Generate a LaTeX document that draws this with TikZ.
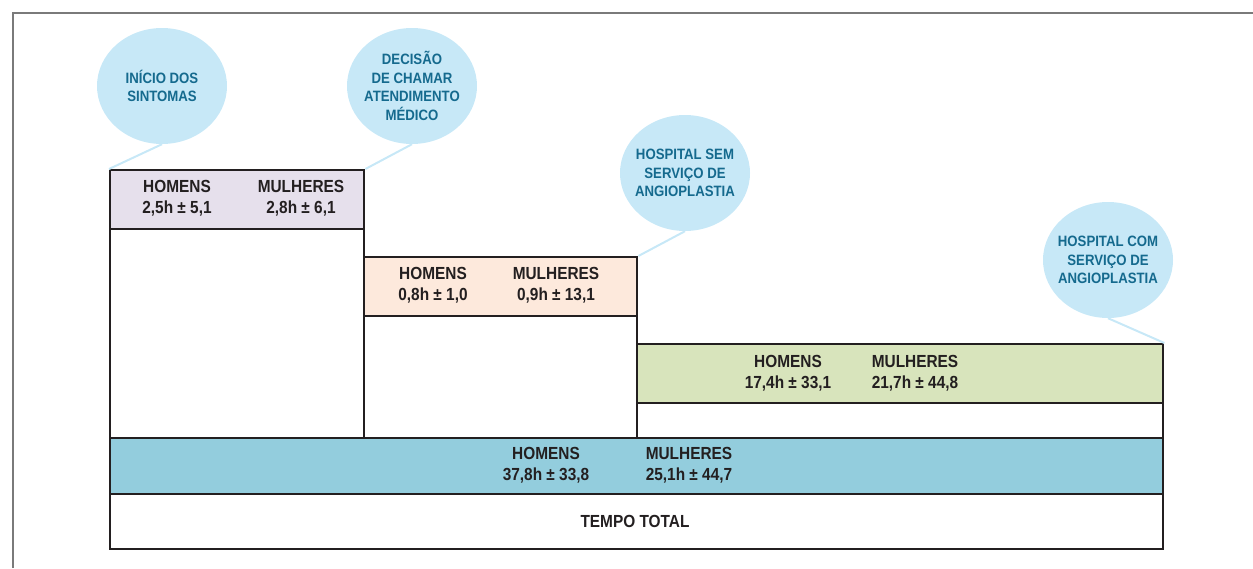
\documentclass[tikz,border=0pt]{standalone}
\usepackage{fontspec}
\setmainfont{Liberation Sans}[FakeStretch=0.88]
\usetikzlibrary{shapes.geometric}
\definecolor{ink}{HTML}{231F20}
\definecolor{bubfill}{HTML}{C7E8F7}
\definecolor{bubtext}{HTML}{156A8E}
\definecolor{lav}{HTML}{E6E0EC}
\definecolor{peach}{HTML}{FDE9DC}
\definecolor{sage}{HTML}{D8E4BC}
\definecolor{teal}{HTML}{93CDDD}
\definecolor{framegray}{HTML}{7A7A7A}
\tikzset{
  panel/.style={draw=ink, line width=2.4pt, inner sep=0pt, anchor=north west},
  bubble/.style={ellipse, fill=bubfill, draw=none, minimum width=130pt, minimum height=116pt, inner sep=-20pt,
     align=center, text=bubtext, font=\fontsize{15}{18.5}\selectfont\bfseries},
  lbl/.style={align=center, text=ink, font=\fontsize{17.5}{21.5}\selectfont\bfseries, inner sep=0pt},
  pointer/.style={draw=bubfill, line width=2pt},
  frameline/.style={draw=framegray, line width=1.3pt}
}
\begin{document}
\begin{tikzpicture}[x=1pt,y=-1pt]
\useasboundingbox (0,0) rectangle (1253,568);
\draw[frameline] (13,568) -- (13,13) -- (1253,13);
% columns
\node[panel, fill=white, minimum width=254, minimum height=268] (c1) at (109,169) {};
\node[panel, fill=lav, minimum width=254, minimum height=59] (h1) at (109,169) {};
\node[panel, fill=white, minimum width=273, minimum height=181] (c2) at (363,256) {};
\node[panel, fill=peach, minimum width=273, minimum height=59] (h2) at (363,256) {};
\node[panel, fill=white, minimum width=526, minimum height=94] (c3) at (636,343) {};
\node[panel, fill=sage, minimum width=526, minimum height=59] (h3) at (636,343) {};
\node[panel, fill=teal, minimum width=1053, minimum height=56] (tot) at (109,437) {};
\node[panel, fill=white, minimum width=1053, minimum height=55] (tt) at (109,493) {};
% labels
\node[lbl] (h1a) at (177,198) {HOMENS\\2,5h ± 5,1};
\node[lbl] (h1b) at (301,198) {MULHERES\\2,8h ± 6,1};
\node[lbl] (h2a) at (433,285) {HOMENS\\0,8h ± 1,0};
\node[lbl] (h2b) at (556,285) {MULHERES\\0,9h ± 13,1};
\node[lbl] (h3a) at (788,373) {HOMENS\\17,4h ± 33,1};
\node[lbl] (h3b) at (915,373) {MULHERES\\21,7h ± 44,8};
\node[lbl] (ta) at (546,465) {HOMENS\\37,8h ± 33,8};
\node[lbl] (tb) at (689,465) {MULHERES\\25,1h ± 44,7};
\node[lbl] (ttl) at (635,521) {TEMPO TOTAL};
% bubbles
\node[bubble] (b1) at (162,86) {INÍCIO DOS\\SINTOMAS};
\node[bubble] (b2) at (412,86) {DECISÃO\\DE CHAMAR\\ATENDIMENTO\\MÉDICO};
\node[bubble] (b3) at (685,173) {HOSPITAL SEM\\SERVIÇO DE\\ANGIOPLASTIA};
\node[bubble] (b4) at (1108,260) {HOSPITAL COM\\SERVIÇO DE\\ANGIOPLASTIA};
\draw[pointer] (b1.south) -- (h1.north west);
\draw[pointer] (b2.south) -- (h1.north east);
\draw[pointer] (b3.south) -- (h2.north east);
\draw[pointer] (b4.south) -- (h3.north east);
\end{tikzpicture}
\end{document}
